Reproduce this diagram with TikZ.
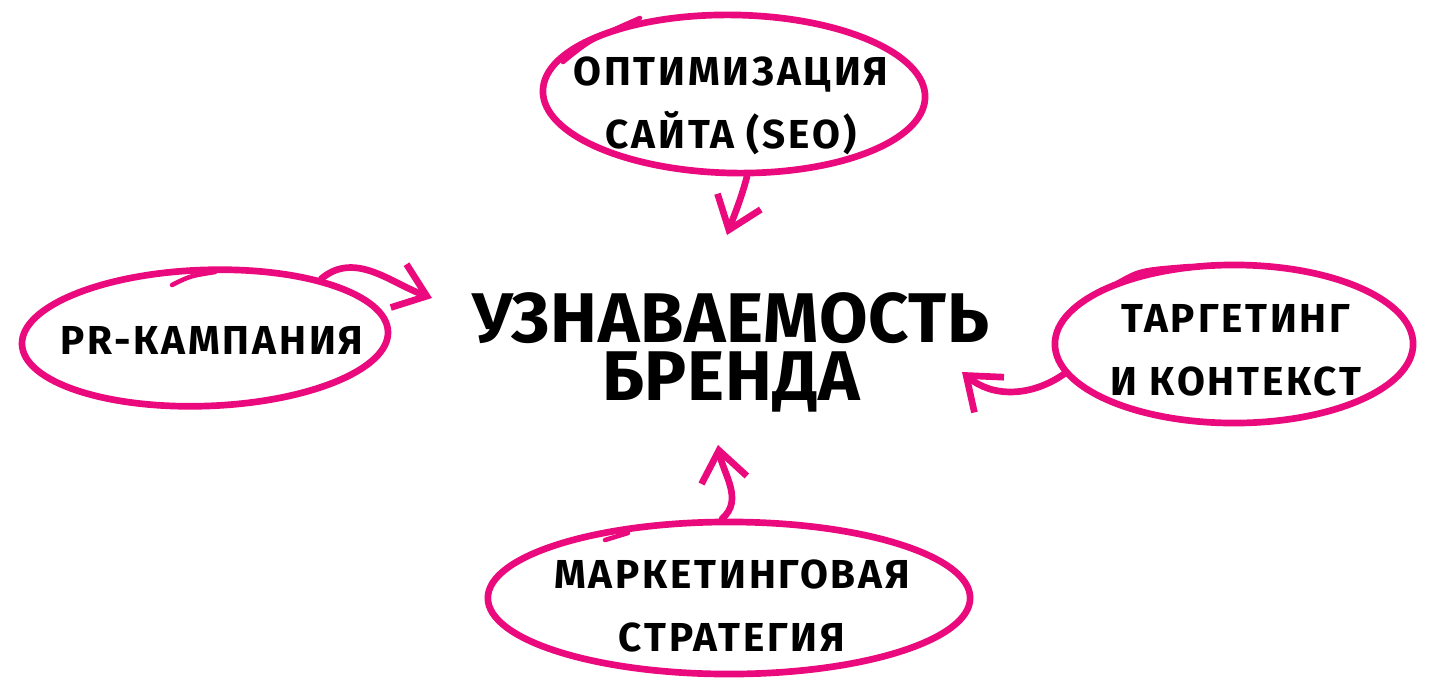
\documentclass[tikz,border=0pt]{standalone}
\usepackage{fontspec}
\setmainfont{Fira Sans}
\usetikzlibrary{shapes.geometric,arrows.meta}
\definecolor{rose}{RGB}{234,10,125}

\begin{document}
\begin{tikzpicture}[x=0.01cm,y=-0.01cm]
% Styles (MODIFIABLES)
\tikzstyle{fleche}=[-{Straight Barb[length=3mm,width=4.6mm]},draw=rose,line width=1.9pt,line cap=round]
\tikzstyle{bulle}=[ellipse,draw=rose,line width=1.9pt,inner sep=0pt]
\tikzstyle{trait}=[draw=rose,line width=1.3pt,line cap=round]
\tikzstyle{etiquette}=[align=center,font=\bfseries\fontsize{11.5}{18}\selectfont\addfontfeatures{LetterSpace=7}]
\tikzstyle{titre}=[anchor=base,inner sep=0pt,font=\bfseries\fontsize{20}{20}\selectfont\addfontfeatures{LetterSpace=1}]
% Cadre
\useasboundingbox[fill=white] (0,0) rectangle (1439,694);
% Noeuds (MODIFIABLES)
\node[titre] (Ta) at (731,342) {УЗНАВАЕМОСТЬ};
\node[titre] (Tb) at (731,400) {БРЕНДА};
\node[bulle,minimum width=3.82cm,minimum height=1.58cm,rotate=-1] (S) at (734,94) {};
\node[etiquette] (St) at (731,106) {ОПТИМИЗАЦИЯ\\САЙТА (SEO)};
\node[bulle,minimum width=3.66cm,minimum height=1.36cm,rotate=2] (P) at (205,338) {};
\node[etiquette] (Pt) at (212,340) {PR-КАМПАНИЯ};
\node[bulle,minimum width=3.58cm,minimum height=1.58cm] (C) at (1234,344) {};
\node[etiquette] (Ct) at (1236,350) {ТАРГЕТИНГ\\И КОНТЕКСТ};
\node[bulle,minimum width=4.82cm,minimum height=1.52cm] (M) at (729,598) {};
\node[etiquette] (Mt) at (732,606) {МАРКЕТИНГОВАЯ\\СТРАТЕГИЯ};
% Pointes (MODIFIABLES)
\coordinate (pS) at (727,235);
\coordinate (pP) at (432,298);
\coordinate (pC) at (962,372);
\coordinate (pM) at (718,445);
% Arcs (MODIFIABLES : Styles)
\draw[fleche] (S.280) to[out=-105,in=70] (pS);
\draw[fleche] (P.25) to[out=40,in=160] (pP);
\draw[fleche] (C.190) to[out=215,in=-40] (pC);
\draw[fleche] (M.95) to[out=40,in=-80] (pM);
% Reprises du trait
\draw[trait] (563,62) .. controls (590,40) .. (640,18);
\draw[trait] (172,285) .. controls (190,276) .. (215,272);
\draw[trait] (1117,283) .. controls (1140,270) .. (1190,266);
\draw[trait] (605,540) -- (628,533);
\end{tikzpicture}
\end{document}
